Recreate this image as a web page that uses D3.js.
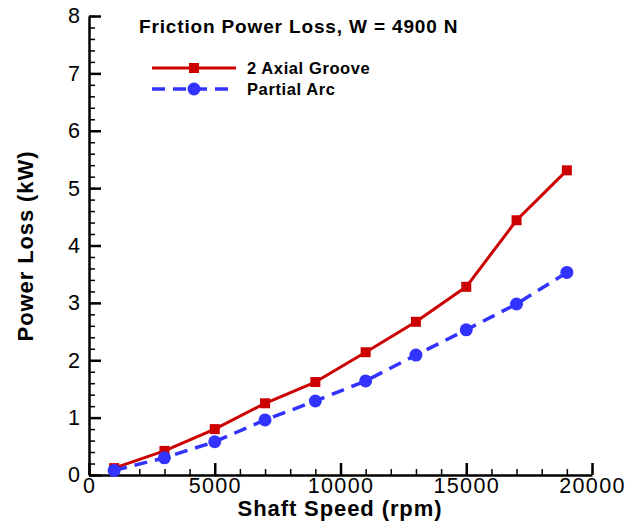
<!DOCTYPE html>
<html>
<head>
<meta charset="utf-8">
<script src="https://cdn.jsdelivr.net/npm/d3@7"></script>
<style>
  body { margin: 0; background: #fff; }
  text { font-family: "Liberation Sans", Arial, sans-serif; }
</style>
</head>
<body>
<div id="chart"></div>
<script>
// data
var speeds = [1000, 3000, 5000, 7000, 9000, 11000, 13000, 15000, 17000, 19000];
var axialGroove = [0.12, 0.42, 0.80, 1.25, 1.62, 2.14, 2.67, 3.28, 4.44, 5.31];
var partialArc = [0.08, 0.30, 0.58, 0.96, 1.29, 1.64, 2.09, 2.53, 2.98, 3.53];
var xTicks = [0, 5000, 10000, 15000, 20000];
var yTicks = [0, 1, 2, 3, 4, 5, 6, 7, 8];

var W = 641, H = 522;
var margin = {top: 16, right: 49, bottom: 47, left: 89};
var width = W - margin.left - margin.right;
var height = H - margin.top - margin.bottom;

var svg = d3.select('#chart').append('svg')
  .attr('width', W)
  .attr('height', H);

var g = svg.append('g')
  .attr('transform', 'translate(' + margin.left + ',' + margin.top + ')');

var x = d3.scaleLinear().domain([0, 20000]).range([0, width]);
var y = d3.scaleLinear().domain([0, 8]).range([height, 0]);

// minor ticks first, pointing inwards
g.append('g')
  .attr('transform', 'translate(0,' + height + ')')
  .call(d3.axisBottom(x).tickValues(d3.range(0, 20001, 1000)).tickSize(-6).tickFormat(''))
  .call(function(s) { s.select('.domain').remove(); })
  .selectAll('line').attr('stroke-width', 1.5);

g.append('g')
  .call(d3.axisLeft(y).tickValues(d3.range(0, 8.01, 0.2)).tickSize(-6).tickFormat(''))
  .call(function(s) { s.select('.domain').remove(); })
  .selectAll('line').attr('stroke-width', 1.5);

// major ticks + labels
var xAxis = g.append('g')
  .attr('transform', 'translate(0,' + height + ')')
  .call(d3.axisBottom(x).tickValues(xTicks).tickSize(-12).tickPadding(-3).tickSizeOuter(0).tickFormat(d3.format('d')));
xAxis.select('.domain').attr('stroke-width', 2.5);
xAxis.selectAll('line').attr('stroke-width', 2.5);
xAxis.selectAll('text')
  .attr('font-size', 21.5)
  .attr('letter-spacing', 1.3)
  .attr('fill', '#000')
  .attr('dy', '0.97em')
  .style('font-family', '"Liberation Sans", Arial, sans-serif');

var yAxis = g.append('g')
  .call(d3.axisLeft(y).tickValues(yTicks).tickSize(-12).tickPadding(-5).tickSizeOuter(0));
yAxis.select('.domain').attr('stroke-width', 2.5);
yAxis.selectAll('line').attr('stroke-width', 2.5);
yAxis.selectAll('text')
  .attr('font-size', 21.5)
  .attr('fill', '#000')
  .attr('x', -9)
  .style('font-family', '"Liberation Sans", Arial, sans-serif');

// axis titles
svg.append('text')
  .attr('x', 340)
  .attr('y', 516)
  .attr('text-anchor', 'middle')
  .attr('font-size', 22)
  .attr('letter-spacing', 0.9)
  .attr('font-weight', 'bold')
  .text('Shaft Speed (rpm)');

svg.append('text')
  .attr('transform', 'translate(33,' + 246 + ') rotate(-90)')
  .attr('text-anchor', 'middle')
  .attr('font-size', 22)
  .attr('letter-spacing', 0.9)
  .attr('font-weight', 'bold')
  .text('Power Loss (kW)');

// lines
var line = function(vals) {
  return d3.line()
    .x(function(d, i) { return x(speeds[i]); })
    .y(function(d) { return y(d); })(vals);
};

g.append('path')
  .attr('d', line(axialGroove))
  .attr('fill', 'none')
  .attr('stroke', '#cc0000')
  .attr('stroke-width', 3)
  .attr('stroke-linejoin', 'round');

g.append('path')
  .attr('d', line(partialArc))
  .attr('fill', 'none')
  .attr('stroke', '#3333ff')
  .attr('stroke-width', 3.5)
  .attr('stroke-dasharray', '13,8');

g.selectAll('.sq').data(axialGroove).enter().append('rect')
  .attr('x', function(d, i) { return x(speeds[i]) - 5; })
  .attr('y', function(d) { return y(d) - 5; })
  .attr('width', 10).attr('height', 10)
  .attr('fill', '#cc0000');

g.selectAll('.dot').data(partialArc).enter().append('circle')
  .attr('cx', function(d, i) { return x(speeds[i]); })
  .attr('cy', function(d) { return y(d); })
  .attr('r', 6.5)
  .attr('fill', '#3333ff');

// title and legend
svg.append('text')
  .attr('x', 139)
  .attr('y', 33)
  .attr('font-size', 19)
  .attr('letter-spacing', 0.85)
  .attr('font-weight', 'bold')
  .text('Friction Power Loss, W = 4900 N');

var legend = svg.append('g');
legend.append('line')
  .attr('x1', 152).attr('x2', 236).attr('y1', 68).attr('y2', 68)
  .attr('stroke', '#cc0000').attr('stroke-width', 3);
legend.append('rect')
  .attr('x', 189).attr('y', 63).attr('width', 10).attr('height', 10)
  .attr('fill', '#cc0000');
legend.append('text')
  .attr('x', 247).attr('y', 74)
  .attr('font-size', 16.5)
  .attr('letter-spacing', 0.6)
  .attr('font-weight', 'bold')
  .text('2 Axial Groove');

legend.append('line')
  .attr('x1', 152).attr('x2', 236).attr('y1', 89).attr('y2', 89)
  .attr('stroke', '#3333ff').attr('stroke-width', 3.5)
  .attr('stroke-dasharray', '13,8');
legend.append('circle')
  .attr('cx', 194).attr('cy', 89).attr('r', 6.5)
  .attr('fill', '#3333ff');
legend.append('text')
  .attr('x', 247).attr('y', 95)
  .attr('font-size', 16.5)
  .attr('letter-spacing', 0.6)
  .attr('font-weight', 'bold')
  .text('Partial Arc');
</script>
</body>
</html>
